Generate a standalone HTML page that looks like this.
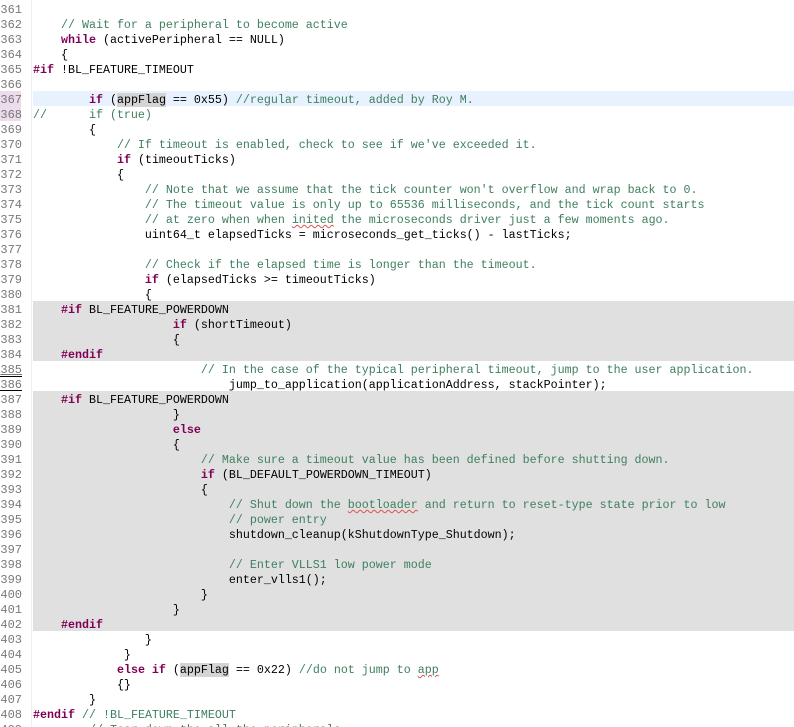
<!DOCTYPE html>
<html><head><meta charset="utf-8"><style>
html,body{margin:0;padding:0;background:#fff;width:794px;height:727px;overflow:hidden;position:relative;font-family:"Liberation Mono",monospace;font-size:11.67px;}
.g{position:absolute;left:0;width:22px;text-align:right;color:#787878;height:15px;line-height:18px;font-size:12px;}
.l{position:absolute;left:33px;right:0;height:15px;line-height:18px;white-space:pre;color:#000;}
.k{color:#7f0055;font-weight:bold;}
.c{color:#3f7f5f;}
.h{background:#d4d4d4;}
.sq{text-decoration:underline wavy #e05050;text-decoration-thickness:1px;}
.bg{position:absolute;left:33px;right:0;background:#e0e0e0;}
</style></head><body>
<div style="position:absolute;left:31px;top:0;width:1px;height:727px;background:#eee"></div>
<div class="bg" style="top:301px;height:60px"></div>
<div class="bg" style="top:391px;height:240px"></div>
<div style="position:absolute;left:33px;right:0;top:91px;height:15px;background:#e8f2fe"></div>
<div style="position:absolute;left:0;width:21px;top:91px;height:30px;background:#ecdcec"></div>

<div class="g" style="top:1px">361</div><div class="l" style="top:1px"></div>
<div class="g" style="top:16px">362</div><div class="l c" style="top:16px">    // Wait for a peripheral to become active</div>
<div class="g" style="top:31px">363</div><div class="l" style="top:31px">    <span class="k">while</span> (activePeripheral == NULL)</div>
<div class="g" style="top:46px">364</div><div class="l" style="top:46px">    {</div>
<div class="g" style="top:61px">365</div><div class="l" style="top:61px"><span class="k">#if</span> !BL_FEATURE_TIMEOUT</div>
<div class="g" style="top:76px">366</div>
<div class="g" style="top:91px">367</div><div class="l" style="top:91px">        <span class="k">if</span> (<span class="h">appFlag</span> == 0x55) <span class="c">//regular timeout, added by Roy M.</span></div>
<div class="g" style="top:106px">368</div><div class="l" style="top:106px"><span class="c">//      if (true)</span></div>
<div class="g" style="top:121px">369</div><div class="l" style="top:121px">        {</div>
<div class="g" style="top:136px">370</div><div class="l c" style="top:136px">            // If timeout is enabled, check to see if we've exceeded it.</div>
<div class="g" style="top:151px">371</div><div class="l" style="top:151px">            <span class="k">if</span> (timeoutTicks)</div>
<div class="g" style="top:166px">372</div><div class="l" style="top:166px">            {</div>
<div class="g" style="top:181px">373</div><div class="l c" style="top:181px">                // Note that we assume that the tick counter won't overflow and wrap back to 0.</div>
<div class="g" style="top:196px">374</div><div class="l c" style="top:196px">                // The timeout value is only up to 65536 milliseconds, and the tick count starts</div>
<div class="g" style="top:211px">375</div><div class="l c" style="top:211px">                // at zero when when <span class="sq">inited</span> the microseconds driver just a few moments ago.</div>
<div class="g" style="top:226px">376</div><div class="l" style="top:226px">                uint64_t elapsedTicks = microseconds_get_ticks() - lastTicks;</div>
<div class="g" style="top:241px">377</div>
<div class="g" style="top:256px">378</div><div class="l c" style="top:256px">                // Check if the elapsed time is longer than the timeout.</div>
<div class="g" style="top:271px">379</div><div class="l" style="top:271px">                <span class="k">if</span> (elapsedTicks &gt;= timeoutTicks)</div>
<div class="g" style="top:286px">380</div><div class="l" style="top:286px">                {</div>
<div class="g" style="top:301px">381</div><div class="l" style="top:301px">    <span class="k">#if</span> BL_FEATURE_POWERDOWN</div>
<div class="g" style="top:316px">382</div><div class="l" style="top:316px">                    <span class="k">if</span> (shortTimeout)</div>
<div class="g" style="top:331px">383</div><div class="l" style="top:331px">                    {</div>
<div class="g" style="top:346px">384</div><div class="l" style="top:346px">    <span class="k">#endif</span></div>
<div class="g" style="top:361px;text-decoration:underline">385</div><div class="l c" style="top:361px">                        // In the case of the typical peripheral timeout, jump to the user application.</div>
<div class="g" style="top:376px;border-top:1px solid #000;border-bottom:1px solid #000;height:13px;line-height:16px">386</div><div class="l" style="top:376px">                            jump_to_application(applicationAddress, stackPointer);</div>
<div class="g" style="top:391px">387</div><div class="l" style="top:391px">    <span class="k">#if</span> BL_FEATURE_POWERDOWN</div>
<div class="g" style="top:406px">388</div><div class="l" style="top:406px">                    }</div>
<div class="g" style="top:421px">389</div><div class="l" style="top:421px">                    <span class="k">else</span></div>
<div class="g" style="top:436px">390</div><div class="l" style="top:436px">                    {</div>
<div class="g" style="top:451px">391</div><div class="l c" style="top:451px">                        // Make sure a timeout value has been defined before shutting down.</div>
<div class="g" style="top:466px">392</div><div class="l" style="top:466px">                        <span class="k">if</span> (BL_DEFAULT_POWERDOWN_TIMEOUT)</div>
<div class="g" style="top:481px">393</div><div class="l" style="top:481px">                        {</div>
<div class="g" style="top:496px">394</div><div class="l c" style="top:496px">                            // Shut down the <span class="sq">bootloader</span> and return to reset-type state prior to low</div>
<div class="g" style="top:511px">395</div><div class="l c" style="top:511px">                            // power entry</div>
<div class="g" style="top:526px">396</div><div class="l" style="top:526px">                            shutdown_cleanup(kShutdownType_Shutdown);</div>
<div class="g" style="top:541px">397</div>
<div class="g" style="top:556px">398</div><div class="l c" style="top:556px">                            // Enter VLLS1 low power mode</div>
<div class="g" style="top:571px">399</div><div class="l" style="top:571px">                            enter_vlls1();</div>
<div class="g" style="top:586px">400</div><div class="l" style="top:586px">                        }</div>
<div class="g" style="top:601px">401</div><div class="l" style="top:601px">                    }</div>
<div class="g" style="top:616px">402</div><div class="l" style="top:616px">    <span class="k">#endif</span></div>
<div class="g" style="top:631px">403</div><div class="l" style="top:631px">                }</div>
<div class="g" style="top:646px">404</div><div class="l" style="top:646px">             }</div>
<div class="g" style="top:661px">405</div><div class="l" style="top:661px">            <span class="k">else if</span> (<span class="h">appFlag</span> == 0x22) <span class="c">//do not jump to <span class="sq">app</span></span></div>
<div class="g" style="top:676px">406</div><div class="l" style="top:676px">            {}</div>
<div class="g" style="top:691px">407</div><div class="l" style="top:691px">        }</div>
<div class="g" style="top:706px">408</div><div class="l" style="top:706px"><span class="k">#endif</span> <span class="c">// !BL_FEATURE_TIMEOUT</span></div>
<div class="g" style="top:721px">409</div><div class="l c" style="top:721px">        // Tear down the all the peripherals</div>
</body></html>
